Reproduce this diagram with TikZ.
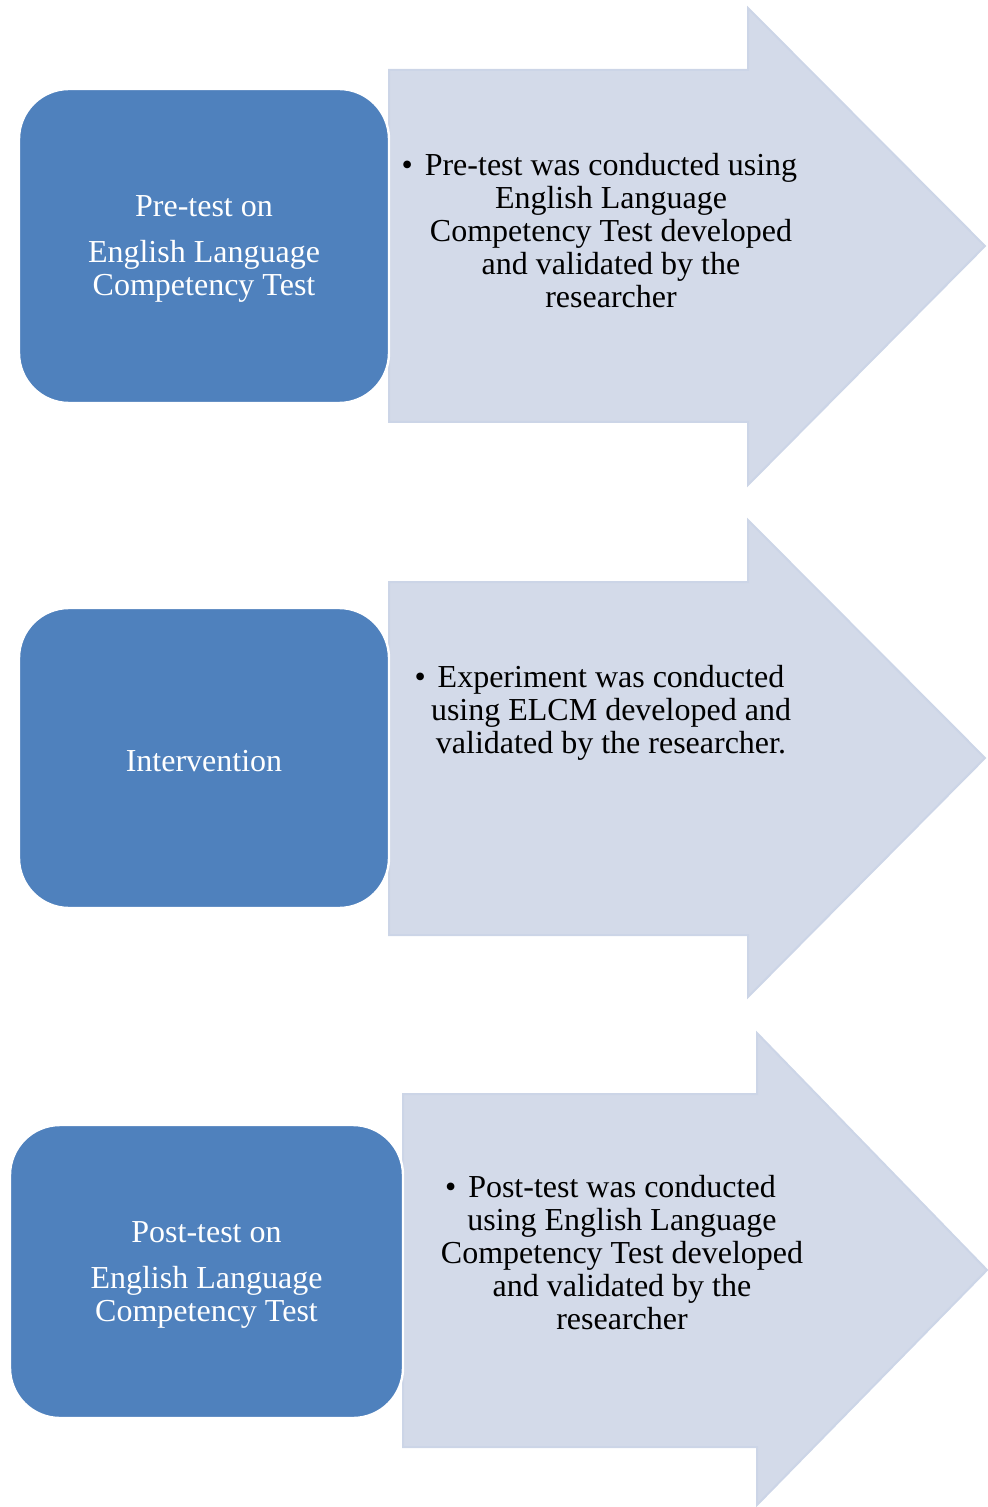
\documentclass[tikz,border=0pt]{standalone}
\usepackage{fontspec}
\setmainfont{Liberation Serif}
\definecolor{boxblue}{HTML}{4F81BD}
\definecolor{arrowbg}{HTML}{D3DAE9}
\definecolor{arrowedge}{HTML}{CCD5E7}
\newcommand{\hangbullet}{\llap{\textbullet\hspace{6pt}}}

\begin{document}
\begin{tikzpicture}[	x=0.5pt,y=-0.5pt,%
					every node/.style={font=\fontsize{16}{16.5}\selectfont},%
					stepbox/.style={draw=white,line width=1.2pt,fill=boxblue,rounded corners=25pt,inner sep=0pt},%
					boxtext/.style={text=white,align=center,inner sep=0pt,yshift=-1.5pt},%
					arrowtext/.style={anchor=north,align=center,inner sep=0pt},%
					bigarrow/.style={fill=arrowbg,draw=arrowedge,line width=1pt}]
\useasboundingbox (0,0) rectangle (987,1507);

% arrows: left/top/bottom of body, head x/top/bottom, tip
\foreach \l/\t/\b/\h/\ht/\hb/\tx/\ty in {389/70/422/748/8/485/985/246,389/582/935/748/520/997/985/758,403/1094/1447/757/1033/1505/987/1270}
	\draw [bigarrow] (\l,\t) -- (\h,\t) -- (\h,\ht) -- (\tx,\ty) -- (\h,\hb) -- (\h,\b) -- (\l,\b) -- cycle;

\node [arrowtext] (pretext) at (611,153) {\hangbullet Pre-test was conducted using\\English Language\\Competency Test developed\\and validated by the\\researcher};
\node [arrowtext] (intertext) at (611,665) {\hangbullet Experiment was conducted\\using ELCM developed and\\validated by the researcher.};
\node [arrowtext] (posttext) at (622,1175) {\hangbullet Post-test was conducted\\using English Language\\Competency Test developed\\and validated by the\\researcher};

\foreach \a\x\y\w\h\d in {pretest/204/246/370/314/{Pre-test on\\[6.5pt]English Language\\Competency Test},intervention/204/758/370/300/Intervention,posttest/206.5/1271.5/393/293/{Post-test on\\[6.5pt]English Language\\Competency Test}}
	\node [stepbox,minimum width=\w*0.5pt,minimum height=\h*0.5pt,label={[boxtext]center:{\d}}] (\a) at (\x,\y) {};

\end{tikzpicture}
\end{document}
